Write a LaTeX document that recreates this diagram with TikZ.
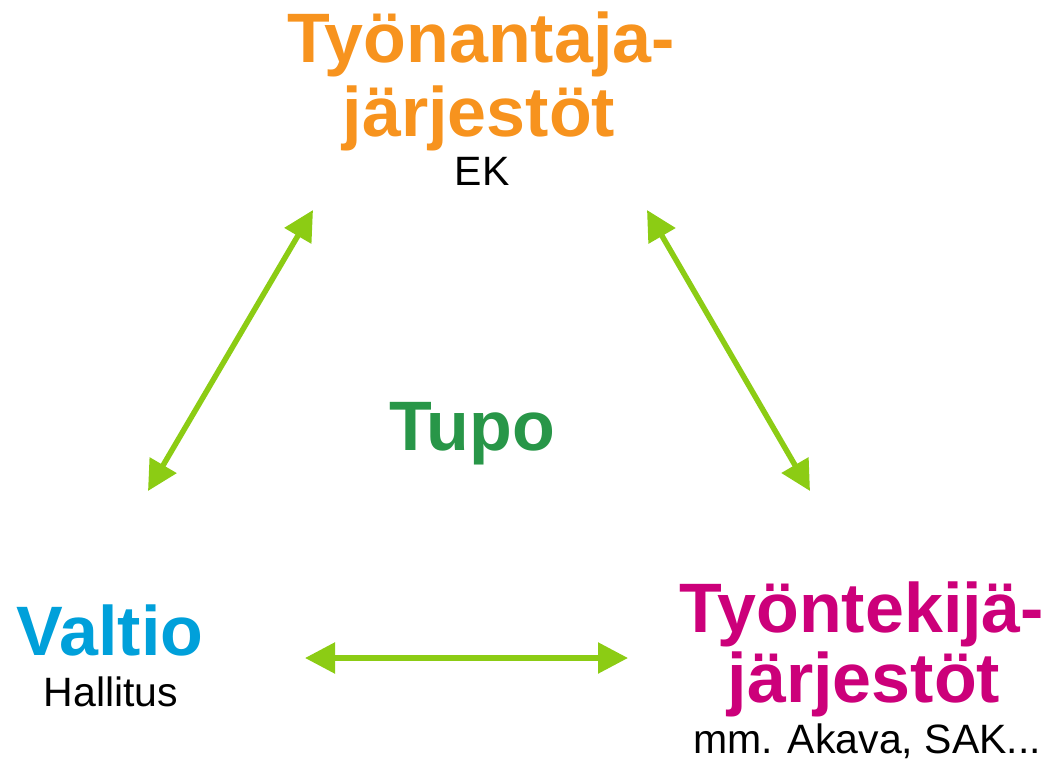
\documentclass[tikz,border=0pt]{standalone}
\usepackage{fontspec}
\setmainfont{Liberation Sans}
\usetikzlibrary{arrows.meta, positioning}

\definecolor{empcolor}{RGB}{247,147,30}
\definecolor{workcolor}{RGB}{204,0,122}
\definecolor{statecolor}{RGB}{0,160,218}
\definecolor{tupocolor}{RGB}{40,150,72}
\definecolor{linkcolor}{RGB}{140,204,20}

\begin{document}
\begin{tikzpicture}[
    x=1pt, y=-1pt, % one unit is one pixel of the picture
    <->,
    >={Triangle[length=30pt, width=30pt]},
    every node/.style={inner sep=0pt, anchor=base},
    party/.style={font={\fontsize{70}{73}\selectfont\bfseries}},
    member/.style={font={\fontsize{41}{44}\selectfont}, text=black},
    link/.style={line width=5.5pt, draw=linkcolor},
  ]

  \useasboundingbox (0,0) rectangle (1060,760);

  % employers
  \node[party, text=empcolor] (emp) at (481,63) {Työnantaja-};
  \node[party, text=empcolor] (emp2) at (479,136) {järjestöt};
  \node[member] (ek) at (482,185) {EK};

  % state
  \node[party, text=statecolor] (state) at (110,655) {Valtio};
  \node[member] (gov) at (111,706) {Hallitus};

  % employees
  \node[party, text=workcolor] (work) at (862,632) {Työntekijä-};
  \node[party, text=workcolor] (work2) at (864,702) {järjestöt};
  \node[member] (unions) at (867,753) {mm. Akava, SAK...};

  \node[party, text=tupocolor] (tupo) at (472,450) {Tupo};

  % arrow ends
  \coordinate (emp-l) at (313,210);
  \coordinate (emp-r) at (647,210);
  \coordinate (state-t) at (148,491);
  \coordinate (state-r) at (305,658);
  \coordinate (work-t) at (810,491);
  \coordinate (work-l) at (628,658);

  \draw[link] (state-t) -- (emp-l);
  \draw[link] (emp-r) -- (work-t);
  \draw[link] (state-r) -- (work-l);

\end{tikzpicture}
\end{document}
